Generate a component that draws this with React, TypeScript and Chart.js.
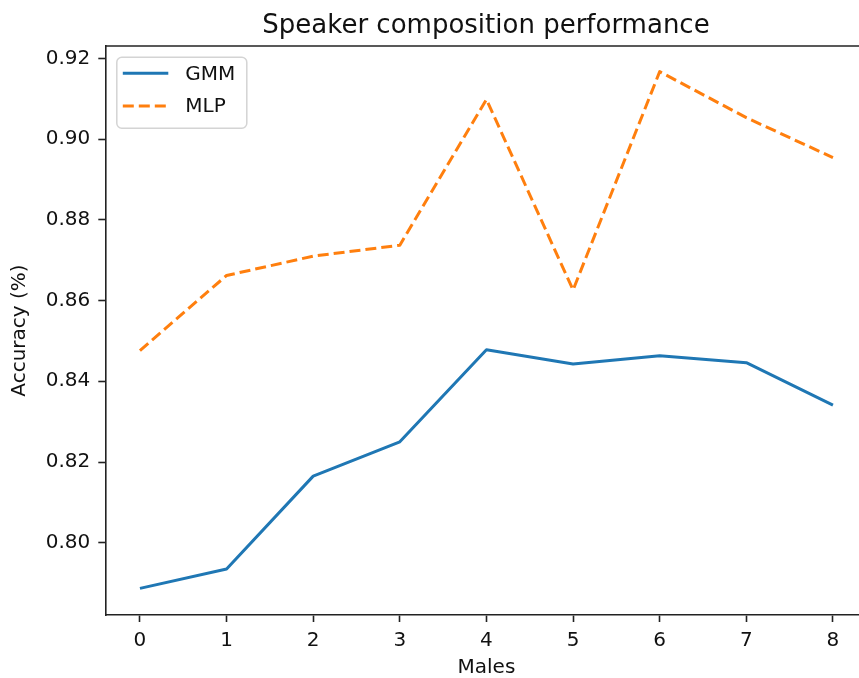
import React, { useEffect, useRef } from "react";
import { Chart, registerables } from "chart.js";

Chart.register(...registerables);

const TITLE = "Speaker composition performance";
const X_LABEL = "Males";
const Y_LABEL = "Accuracy (%)";
const males = [0, 1, 2, 3, 4, 5, 6, 7, 8];
const gmmValues = [0.7887, 0.7935, 0.8165, 0.825, 0.8478, 0.8443, 0.8463, 0.8446, 0.8341];
const mlpValues = [0.8476, 0.8662, 0.871, 0.8737, 0.9098, 0.8626, 0.9167, 0.9053, 0.8954];
const seriesNames = ["GMM", "MLP"];
const seriesColors = ["#1f77b4", "#ff7f0e"];
const seriesDashes = [[], [11, 5]];
// the reference picture is cut off on the right, before the axes' right edge
const X_MIN = -0.4;
const X_MAX = 8.4;
const Y_MIN = 0.7821;
const Y_MAX = 0.92305;
const Y_STEP = 0.02;
const TITLE_CENTER_X = 486;

const FONT = "DejaVu Sans";

const framePlugin = {
  id: "frame",
  afterDatasetsDraw(chart: any) {
    const { ctx, chartArea } = chart;
    ctx.save();
    ctx.strokeStyle = "#222";
    ctx.lineWidth = 1.6;
    ctx.beginPath();
    ctx.moveTo(chartArea.left, chartArea.top);
    ctx.lineTo(chartArea.right + 5, chartArea.top);
    ctx.stroke();
    ctx.restore();
  },
};

const titlePlugin = {
  id: "centeredTitle",
  afterDraw(chart: any) {
    const { ctx } = chart;
    ctx.save();
    ctx.fillStyle = "#111";
    ctx.font = `26px "${FONT}"`;
    ctx.textAlign = "center";
    ctx.textBaseline = "alphabetic";
    ctx.fillText(TITLE, TITLE_CENTER_X, 33);
    ctx.restore();
  },
};

const legendPlugin = {
  id: "mplLegend",
  afterDraw(chart: any) {
    const { ctx, chartArea } = chart;
    const x0 = chartArea.left + 11.5;
    const y0 = chartArea.top + 11.3;
    const w = 130;
    const h = 71;
    const r = 5;
    ctx.save();
    ctx.beginPath();
    ctx.moveTo(x0 + r, y0);
    ctx.lineTo(x0 + w - r, y0);
    ctx.arcTo(x0 + w, y0, x0 + w, y0 + r, r);
    ctx.lineTo(x0 + w, y0 + h - r);
    ctx.arcTo(x0 + w, y0 + h, x0 + w - r, y0 + h, r);
    ctx.lineTo(x0 + r, y0 + h);
    ctx.arcTo(x0, y0 + h, x0, y0 + h - r, r);
    ctx.lineTo(x0, y0 + r);
    ctx.arcTo(x0, y0, x0 + r, y0, r);
    ctx.closePath();
    ctx.fillStyle = "rgba(255,255,255,0.8)";
    ctx.fill();
    ctx.strokeStyle = "#d4d4d4";
    ctx.lineWidth = 1.5;
    ctx.stroke();
    chart.data.datasets.forEach((ds: any, i: number) => {
      const ly = y0 + 16 + i * 32.7;
      ctx.beginPath();
      ctx.setLineDash(ds.borderDash || []);
      ctx.strokeStyle = ds.borderColor;
      ctx.lineWidth = 3;
      ctx.lineCap = "butt";
      ctx.moveTo(x0 + 6, ly);
      ctx.lineTo(x0 + 51.5, ly);
      ctx.stroke();
      ctx.setLineDash([]);
      ctx.fillStyle = "#111";
      ctx.font = `20px "${FONT}"`;
      ctx.textBaseline = "middle";
      ctx.textAlign = "left";
      ctx.fillText(ds.label, x0 + 68.5, ly + 1);
    });
    ctx.restore();
  },
};

export default function App() {
  const ref = useRef<HTMLCanvasElement | null>(null);
  useEffect(() => {
    if (!ref.current) return;
    const series = [gmmValues, mlpValues];
    const chart = new Chart(ref.current, {
      type: "line",
      data: {
        datasets: series.map((vals, i) => ({
          label: seriesNames[i],
          data: males.map((m, j) => ({ x: m, y: vals[j] })),
          borderColor: seriesColors[i],
          backgroundColor: seriesColors[i],
          borderWidth: 3,
          borderDash: seriesDashes[i],
          borderJoinStyle: "round",
          borderCapStyle: "butt",
          pointRadius: 0,
          tension: 0,
          fill: false,
        })),
      },
      options: {
        responsive: false,
        maintainAspectRatio: false,
        animation: false,
        events: [],
        layout: { padding: { left: 0, right: 22.4, top: 46, bottom: 0 } },
        plugins: {
          legend: { display: false },
          tooltip: { enabled: false },
          title: { display: false },
        },
        scales: {
          x: {
            type: "linear",
            min: X_MIN,
            max: X_MAX,
            afterFit: (s: any) => {
              s.height = 63;
            },
            ticks: {
              stepSize: 1,
              includeBounds: false,
              color: "#111",
              font: { family: FONT, size: 20 },
              padding: 7,
              maxRotation: 0,
              callback: (v: any) => String(v),
            },
            grid: {
              drawOnChartArea: false,
              drawTicks: true,
              tickLength: 7,
              tickWidth: 1.6,
              tickColor: "#222",
            },
            border: { display: true, color: "#222", width: 1.6 },
            title: {
              display: true,
              text: X_LABEL,
              color: "#111",
              font: { family: FONT, size: 20 },
              padding: { top: 0, bottom: -2 },
            },
          },
          y: {
            type: "linear",
            min: Y_MIN,
            max: Y_MAX,
            afterFit: (s: any) => {
              s.width = 105.3;
            },
            ticks: {
              stepSize: Y_STEP,
              includeBounds: false,
              color: "#111",
              font: { family: FONT, size: 20 },
              padding: 8,
              callback: (v: any) => Number(v).toFixed(2),
            },
            grid: {
              drawOnChartArea: false,
              drawTicks: true,
              tickLength: 7,
              tickWidth: 1.6,
              tickColor: "#222",
            },
            border: { display: true, color: "#222", width: 1.6 },
            title: {
              display: true,
              text: Y_LABEL,
              color: "#111",
              font: { family: FONT, size: 20 },
              padding: { top: 8, bottom: 0 },
            },
          },
        },
      } as any,
      plugins: [framePlugin, legendPlugin, titlePlugin],
    });
    return () => chart.destroy();
  }, []);
  return (
    <div
      style={{
        position: "absolute",
        left: 0,
        top: 0,
        width: 859,
        height: 678,
        overflow: "hidden",
        background: "#fff",
      }}
    >
      <canvas ref={ref} width={890} height={678} style={{ display: "block" }} />
    </div>
  );
}
